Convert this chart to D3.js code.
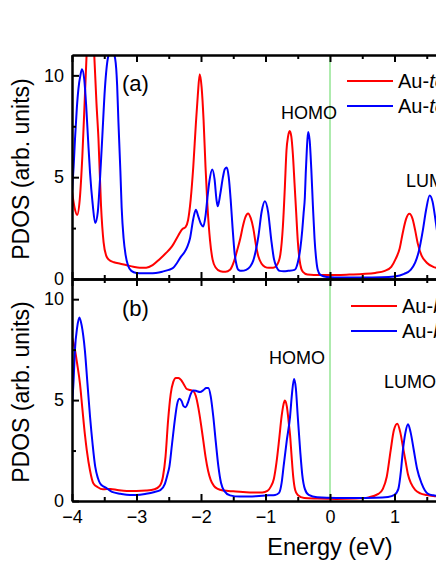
<!DOCTYPE html>
<html><head><meta charset="utf-8">
<script src="https://cdn.jsdelivr.net/npm/d3@7"></script>
<style>
html,body{margin:0;padding:0;background:#fff;}
svg{display:block;font-family:"Liberation Sans",Arial,Helvetica,sans-serif;}
</style>
</head><body>
<svg id="chart" width="436" height="564"></svg>
<script>
// ---------- tick labels ----------
const xTicks = [-4, -3, -2, -1, 0, 1, 2];
const xMinorTicks = [-3.5, -2.5, -1.5, -0.5, 0.5, 1.5];
const yTicks = [0, 5, 10];
const yMinorTicks = [2.5, 7.5];
const panelLabels = ["(a)", "(b)"];
const legendNamesA = ["top 1", "top 2"];
const legendNamesB = ["bridge 1", "bridge 2"];

// ---------- panel (a) : red ----------
const energyRedA = [-4.00,-3.96,-3.92,-3.88,-3.84,-3.80,-3.77,-3.74,-3.71,-3.68,-3.655,-3.62,-3.59,-3.55,-3.51,-3.47,-3.43,-3.35,-3.25,-3.15,-3.05,-2.95,-2.85,-2.75,-2.65,-2.55,-2.45,-2.35,-2.29,-2.24,-2.20,-2.16,-2.12,-2.08,-2.05,-2.02,-1.99,-1.96,-1.93,-1.90,-1.86,-1.82,-1.77,-1.70,-1.62,-1.55,-1.49,-1.44,-1.39,-1.35,-1.31,-1.27,-1.23,-1.19,-1.15,-1.11,-1.06,-1.01,-0.95,-0.88,-0.82,-0.77,-0.73,-0.70,-0.675,-0.65,-0.625,-0.60,-0.575,-0.55,-0.525,-0.50,-0.46,-0.42,-0.35,-0.25,-0.10,0.10,0.30,0.50,0.70,0.85,0.95,1.02,1.08,1.13,1.18,1.23,1.28,1.32,1.36,1.42,1.50,1.60,1.70,1.85,2.00];
const pdosRedA   = [4.3,3.5,3.15,3.9,6.0,9.0,11.3,13.5,14.3,13.3,11.0,8.6,6.9,3.6,1.8,1.15,0.95,0.82,0.75,0.68,0.6,0.55,0.55,0.68,0.95,1.25,1.6,2.15,2.45,2.55,2.9,3.9,5.5,7.6,9.0,10.05,9.4,7.8,5.5,3.6,1.9,0.95,0.55,0.38,0.35,0.45,0.85,1.4,2.0,2.6,3.05,3.22,3.0,2.5,1.7,1.1,0.75,0.6,0.55,0.55,0.7,1.2,2.6,4.5,6.3,7.0,7.27,7.0,6.1,4.7,3.3,1.9,0.7,0.35,0.22,0.2,0.2,0.2,0.22,0.25,0.3,0.4,0.6,1.0,1.5,2.3,2.95,3.2,2.95,2.4,1.75,1.15,0.8,0.6,0.5,0.42,0.4];

// ---------- panel (a) : blue ----------
const energyBlueA = [-4.00,-3.975,-3.953,-3.925,-3.90,-3.87,-3.845,-3.81,-3.78,-3.75,-3.72,-3.68,-3.64,-3.60,-3.566,-3.53,-3.49,-3.44,-3.385,-3.33,-3.30,-3.28,-3.25,-3.23,-3.20,-3.17,-3.13,-3.08,-3.00,-2.90,-2.80,-2.70,-2.60,-2.50,-2.43,-2.37,-2.31,-2.26,-2.21,-2.17,-2.12,-2.08,-2.04,-2.00,-1.965,-1.93,-1.90,-1.87,-1.825,-1.79,-1.76,-1.74,-1.70,-1.66,-1.63,-1.60,-1.57,-1.54,-1.51,-1.48,-1.45,-1.42,-1.37,-1.30,-1.24,-1.19,-1.15,-1.11,-1.06,-1.01,-0.96,-0.91,-0.87,-0.83,-0.78,-0.72,-0.65,-0.55,-0.50,-0.46,-0.43,-0.41,-0.39,-0.376,-0.36,-0.34,-0.315,-0.29,-0.265,-0.24,-0.215,-0.19,-0.15,-0.05,0.20,0.50,0.80,1.00,1.15,1.25,1.32,1.38,1.44,1.49,1.545,1.59,1.64,1.70,1.78,1.90,2.00];
const pdosBlueA   = [4.25,5.5,6.9,8.4,9.35,10.0,10.3,9.8,8.5,6.8,5.2,3.7,2.75,3.3,4.9,7.0,9.35,10.9,11.3,10.8,9.5,7.7,5.3,3.5,2.0,1.2,0.65,0.4,0.3,0.28,0.28,0.3,0.36,0.45,0.55,0.8,1.1,1.3,1.6,2.0,2.95,3.4,3.05,2.7,2.58,3.1,4.0,4.8,5.38,4.9,3.9,3.57,4.2,5.0,5.4,5.47,5.0,3.9,2.5,1.3,0.7,0.45,0.4,0.45,0.6,0.9,1.4,2.1,3.3,3.82,3.3,1.9,1.0,0.6,0.4,0.38,0.4,0.45,0.8,1.5,2.4,3.2,4.0,5.2,6.3,7.22,6.8,5.4,3.6,2.0,1.0,0.45,0.2,0.1,0.07,0.07,0.08,0.12,0.25,0.45,0.8,1.4,2.4,3.4,4.1,3.8,2.8,1.5,0.7,0.4,0.3];

// ---------- panel (b) : red ----------
const energyRedB = [-4.00,-3.96,-3.92,-3.876,-3.84,-3.80,-3.77,-3.72,-3.67,-3.60,-3.52,-3.40,-3.30,-3.15,-3.00,-2.85,-2.72,-2.64,-2.59,-2.55,-2.51,-2.47,-2.43,-2.39,-2.35,-2.31,-2.27,-2.22,-2.17,-2.12,-2.08,-2.04,-2.00,-1.965,-1.93,-1.89,-1.85,-1.80,-1.74,-1.65,-1.50,-1.35,-1.20,-1.05,-0.97,-0.92,-0.87,-0.83,-0.79,-0.75,-0.72,-0.70,-0.67,-0.64,-0.62,-0.595,-0.57,-0.54,-0.50,-0.40,-0.20,0.10,0.40,0.60,0.75,0.82,0.88,0.94,0.99,1.043,1.09,1.13,1.17,1.21,1.257,1.32,1.40,1.50,1.60,1.80,2.00];
const pdosRedB   = [8.1,7.6,6.8,5.8,4.6,3.3,2.5,1.5,0.88,0.68,0.58,0.6,0.55,0.5,0.5,0.52,0.58,0.75,1.2,2.2,4.0,5.3,5.9,6.1,6.1,6.0,5.8,5.55,5.5,5.45,5.2,4.6,3.8,3.0,2.2,1.5,1.05,0.75,0.6,0.52,0.48,0.45,0.42,0.42,0.5,0.7,1.1,1.9,3.0,4.2,4.8,4.98,4.7,3.9,3.3,2.2,1.2,0.55,0.3,0.15,0.12,0.1,0.12,0.18,0.35,0.6,1.2,2.5,3.5,3.83,3.4,2.7,2.0,1.3,0.87,0.55,0.38,0.3,0.25,0.2,0.2];

// ---------- panel (b) : blue ----------
const energyBlueB = [-4.00,-3.975,-3.955,-3.92,-3.886,-3.85,-3.80,-3.76,-3.72,-3.68,-3.64,-3.60,-3.566,-3.50,-3.46,-3.38,-3.25,-3.10,-3.00,-2.85,-2.72,-2.63,-2.56,-2.52,-2.49,-2.45,-2.40,-2.37,-2.336,-2.30,-2.27,-2.24,-2.20,-2.16,-2.12,-2.07,-2.016,-1.96,-1.92,-1.887,-1.85,-1.81,-1.77,-1.73,-1.69,-1.64,-1.55,-1.40,-1.25,-1.10,-0.95,-0.85,-0.79,-0.75,-0.72,-0.67,-0.62,-0.59,-0.558,-0.53,-0.50,-0.46,-0.43,-0.39,-0.33,-0.20,0.10,0.40,0.70,0.90,1.00,1.06,1.10,1.13,1.17,1.21,1.25,1.30,1.35,1.42,1.52,1.60,1.80,2.00];
const pdosBlueB   = [4.65,6.0,7.45,8.6,9.09,8.7,7.45,5.8,4.16,2.8,1.7,1.15,0.88,0.7,0.63,0.45,0.36,0.3,0.3,0.36,0.45,0.54,0.85,1.3,1.7,2.8,4.16,4.8,5.07,4.95,4.7,4.65,4.9,5.3,5.48,5.45,5.4,5.5,5.6,5.6,5.2,4.2,2.9,1.7,0.9,0.5,0.28,0.22,0.22,0.25,0.28,0.3,0.4,0.9,1.7,3.0,4.16,5.3,6.05,5.6,4.2,2.4,1.3,0.6,0.3,0.18,0.15,0.15,0.16,0.2,0.3,0.6,1.5,2.5,3.4,3.8,3.4,2.5,1.6,0.87,0.35,0.28,0.22,0.2];

// ---------- layout ----------
const svg = d3.select("#chart");
const left = 72, right = 459;
const panels = [
  {top: 55, bottom: 279, label: panelLabels[0], legend: legendNamesA,
   series: [{e: energyRedA, v: pdosRedA, color: "#ff0000"}, {e: energyBlueA, v: pdosBlueA, color: "#0000ff"}],
   homo: [281, 119], lumo: [406, 187], lab: [122, 91], leg: [347, 81]},
  {top: 279, bottom: 501, label: panelLabels[1], legend: legendNamesB,
   series: [{e: energyRedB, v: pdosRedB, color: "#ff0000"}, {e: energyBlueB, v: pdosBlueB, color: "#0000ff"}],
   homo: [269, 364], lumo: [384, 388], lab: [122, 316], leg: [351, 306]}
];

const x = d3.scaleLinear().domain([-4, 2]).range([left, right]);

panels.forEach((p, i) => {
  const y = d3.scaleLinear().domain([0, 11]).range([p.bottom, p.top]);
  const clipId = "clip" + i;
  svg.append("clipPath").attr("id", clipId)
    .append("rect").attr("x", left).attr("y", p.top).attr("width", right - left).attr("height", p.bottom - p.top);

  const g = svg.append("g");
  // zero-energy line
  g.append("line").attr("x1", x(0)).attr("x2", x(0)).attr("y1", p.top).attr("y2", p.bottom)
    .attr("stroke", "#5fd85f").attr("stroke-width", 1);

  const line = d3.line().x(d => x(d[0])).y(d => y(d[1])).curve(d3.curveMonotoneX);
  p.series.forEach(s => {
    g.append("path").datum(s.e.map((e, k) => [e, s.v[k]]))
      .attr("clip-path", `url(#${clipId})`)
      .attr("fill", "none").attr("stroke", s.color).attr("stroke-width", 2)
      .attr("stroke-linejoin", "round").attr("d", line);
  });

  const styleAxis = sel => {
    sel.select(".domain").attr("stroke", "#000").attr("stroke-width", 2);
    sel.selectAll(".tick line").attr("stroke", "#000").attr("stroke-width", 2);
    sel.selectAll("text").attr("font-size", 18).attr("fill", "#000")
      .attr("font-family", "'Liberation Sans',Arial,sans-serif");
  };

  // bottom axis of panel (ticks inward = up)
  const bottomMajor = d3.axisBottom(x).tickValues(xTicks).tickSizeInner(-7).tickSizeOuter(0).tickPadding(9)
    .tickFormat(i === 1 ? d3.format("d") : () => "");
  svg.append("g").attr("transform", `translate(0,${p.bottom})`).call(bottomMajor).call(styleAxis);
  svg.append("g").attr("transform", `translate(0,${p.bottom})`)
    .call(d3.axisBottom(x).tickValues(xMinorTicks).tickSizeInner(-4).tickSizeOuter(0).tickFormat(() => ""))
    .call(styleAxis);
  // top axis of panel (ticks inward = down)
  svg.append("g").attr("transform", `translate(0,${p.top})`)
    .call(d3.axisTop(x).tickValues(xTicks).tickSizeInner(-7).tickSizeOuter(0).tickFormat(() => ""))
    .call(styleAxis);
  svg.append("g").attr("transform", `translate(0,${p.top})`)
    .call(d3.axisTop(x).tickValues(xMinorTicks).tickSizeInner(-4).tickSizeOuter(0).tickFormat(() => ""))
    .call(styleAxis);
  // left axis
  svg.append("g").attr("transform", `translate(${left},0)`)
    .call(d3.axisLeft(y).tickValues(yTicks).tickSizeInner(-7).tickSizeOuter(0).tickPadding(8).tickFormat(d3.format("d")))
    .call(styleAxis);
  svg.append("g").attr("transform", `translate(${left},0)`)
    .call(d3.axisLeft(y).tickValues(yMinorTicks).tickSizeInner(-4).tickSizeOuter(0).tickFormat(() => ""))
    .call(styleAxis);
  // right axis
  svg.append("g").attr("transform", `translate(${right},0)`)
    .call(d3.axisRight(y).tickValues(yTicks).tickSizeInner(-7).tickSizeOuter(0).tickFormat(() => ""))
    .call(styleAxis);

  // y title
  svg.append("text").attr("transform", `translate(29,${(p.top + p.bottom) / 2 + 2}) rotate(-90)`)
    .attr("text-anchor", "middle").attr("font-size", 23).text("PDOS (arb. units)");

  // panel label
  svg.append("text").attr("x", p.lab[0]).attr("y", p.lab[1]).attr("font-size", 22).text(p.label);
  // HOMO / LUMO
  svg.append("text").attr("x", p.homo[0]).attr("y", p.homo[1]).attr("font-size", 18).text("HOMO");
  svg.append("text").attr("x", p.lumo[0]).attr("y", p.lumo[1]).attr("font-size", 18).text("LUMO");

  // legend
  p.series.forEach((s, k) => {
    const ly = p.leg[1] + k * 25;
    svg.append("line").attr("x1", p.leg[0]).attr("x2", p.leg[0] + 46).attr("y1", ly).attr("y2", ly)
      .attr("stroke", s.color).attr("stroke-width", 2);
    const t = svg.append("text").attr("x", p.leg[0] + 51).attr("y", ly + 7).attr("font-size", 20);
    t.append("tspan").text("Au-");
    t.append("tspan").attr("font-style", "italic").text(p.legend[k]);
  });
});

// x title
svg.append("text").attr("x", x(0)).attr("y", 555).attr("text-anchor", "middle").attr("font-size", 23.5).text("Energy (eV)");
</script>
</body></html>
